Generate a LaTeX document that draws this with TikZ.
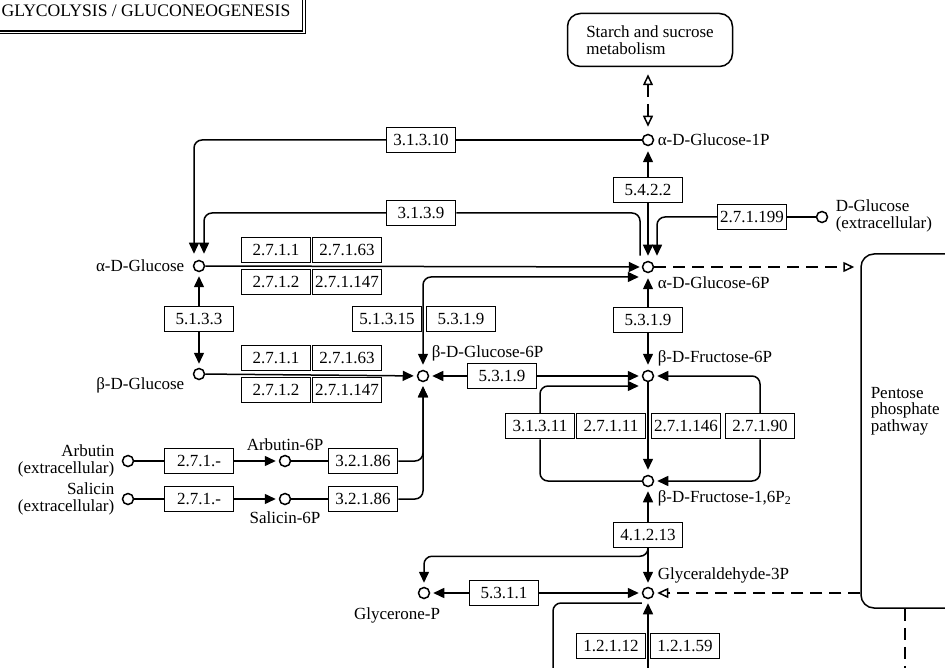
\documentclass[tikz,border=0pt]{standalone}
\usepackage{fontspec}
\setmainfont{Liberation Serif}
\usetikzlibrary{arrows.meta}

\begin{document}
\begin{tikzpicture}[x=1pt, y=-1pt, line width=1.5pt,
    >={Triangle[length=11pt,width=10pt]},
    cpd/.style={circle, draw, fill=white, minimum size=11pt, inner sep=0pt},
    enz/.style={draw, fill=white, minimum width=69pt, minimum height=25pt, inner sep=0pt, font=\fontsize{17}{17}\selectfont},
    lbl/.style={inner sep=0pt, font=\fontsize{17}{16.5}\selectfont},
    map/.style={draw, rounded corners=13pt, font=\fontsize{17}{16.5}\selectfont, align=left},
    ttlbox/.style={draw, minimum width=313pt, minimum height=40pt, font=\fontsize{17.6}{17.6}\selectfont},
    lnk/.style={dash pattern=on 12pt off 7pt},
    opn/.style={-{Triangle[open,length=11pt,width=10pt]}},
    opnboth/.style={{Triangle[open,length=11pt,width=10pt]}-{Triangle[open,length=11pt,width=10pt]}}]
    \useasboundingbox (0,0) rectangle (945,668);
    \clip (0,0) rectangle (945,668);

    % title and maps
    \node[ttlbox] (ttl) at (146,11) {GLYCOLYSIS / GLUCONEOGENESIS};
    \draw ([xshift=2pt,yshift=-2pt]ttl.south west) -| ([xshift=2pt,yshift=-2pt]ttl.north east);
    \node[map, minimum width=165pt, minimum height=53pt] (starch) at (650,40) {Starch and sucrose\\metabolism};
    \node[map, minimum width=140pt, minimum height=354pt] (pent) at (931,431) {};
    \node[lbl, anchor=west, align=left] (pentl) at (870,411) {Pentose\\phosphate\\pathway};

    % compounds
    \node[cpd] (g1p) at (648,140) {};
    \node[cpd] (g6p) at (648,267) {};
    \node[cpd] (dglcx) at (822,217) {};
    \node[cpd] (aglc) at (199,266) {};
    \node[cpd] (bglc) at (199,374) {};
    \node[cpd] (bg6p) at (423,376) {};
    \node[cpd] (f6p) at (648,376) {};
    \node[cpd] (fbp) at (648,481) {};
    \node[cpd] (arb) at (128,461) {};
    \node[cpd] (arb6p) at (285,461) {};
    \node[cpd] (sal) at (128,499) {};
    \node[cpd] (sal6p) at (285,499) {};
    \node[cpd] (gnp) at (424,593) {};
    \node[cpd] (gap) at (648,593) {};

    \node[lbl, anchor=west] (g1pl) at (657,140) {α-D-Glucose-1P};
    \node[lbl, anchor=west] (g6pl) at (657,283) {α-D-Glucose-6P};
    \node[lbl, anchor=west, align=left] (dglcxl) at (835,216) {D-Glucose\\(extracellular)};
    \node[lbl, anchor=east] (aglcl) at (185,266) {α-D-Glucose};
    \node[lbl, anchor=east] (bglcl) at (185,385) {β-D-Glucose};
    \node[lbl, anchor=west] (bg6pl) at (431,353) {β-D-Glucose-6P};
    \node[lbl, anchor=west] (f6pl) at (657,358) {β-D-Fructose-6P};
    \node[lbl, anchor=west] (fbpl) at (657,498) {β-D-Fructose-1,6P\textsubscript{2}};
    \node[lbl, anchor=east, align=right] (arbl) at (115,461) {Arbutin\\(extracellular)};
    \node[lbl, anchor=east, align=right] (sall) at (115,499) {Salicin\\(extracellular)};
    \node[lbl] (arb6pl) at (285,445) {Arbutin-6P};
    \node[lbl] (sal6pl) at (285,518) {Salicin-6P};
    \node[lbl] (gnpl) at (397,615) {Glycerone-P};
    \node[lbl, anchor=west] (gapl) at (657,575) {Glyceraldehyde-3P};

    % enzymes
    \node[enz] (e31310) at (421,140) {3.1.3.10};
    \node[enz] (e5422) at (648,190) {5.4.2.2};
    \node[enz] (e3139) at (421,213) {3.1.3.9};
    \node[enz] (e271199) at (752,217) {2.7.1.199};
    \node[enz] (e2711a) at (276,250) {2.7.1.1};
    \node[enz] (e27163a) at (347,250) {2.7.1.63};
    \node[enz] (e2712a) at (276,282) {2.7.1.2};
    \node[enz] (e271147a) at (347,282) {2.7.1.147};
    \node[enz] (e5133) at (199,319) {5.1.3.3};
    \node[enz] (e51315) at (387,319) {5.1.3.15};
    \node[enz] (e5319a) at (461,319) {5.3.1.9};
    \node[enz] (e5319b) at (648,320) {5.3.1.9};
    \node[enz] (e2711b) at (276,358) {2.7.1.1};
    \node[enz] (e27163b) at (347,358) {2.7.1.63};
    \node[enz] (e2712b) at (276,390) {2.7.1.2};
    \node[enz] (e271147b) at (347,390) {2.7.1.147};
    \node[enz] (e5319c) at (502,376) {5.3.1.9};
    \node[enz] (e31311) at (540,426) {3.1.3.11};
    \node[enz] (e27111) at (611,426) {2.7.1.11};
    \node[enz] (e271146) at (686,426) {2.7.1.146};
    \node[enz] (e27190) at (760,426) {2.7.1.90};
    \node[enz] (e271a) at (199,461) {2.7.1.-};
    \node[enz] (e271b) at (199,499) {2.7.1.-};
    \node[enz] (e32186a) at (363,461) {3.2.1.86};
    \node[enz] (e32186b) at (363,499) {3.2.1.86};
    \node[enz] (e41213) at (648,535) {4.1.2.13};
    \node[enz] (e5311) at (504,593) {5.3.1.1};
    \node[enz] (e12112) at (611,646) {1.2.1.12};
    \node[enz] (e12159) at (685,646) {1.2.1.59};

    \coordinate (gapin) at (648,680);
    \coordinate (pgin) at (553,680);
    \coordinate (pentout) at (905,680);

    % reactions
    \draw (g1p) -- (e31310);
    \draw[->, rounded corners=8pt] (e31310.west) -| ([xshift=-5pt,yshift=6pt]aglc.north);
    \draw[rounded corners=8pt] ([xshift=-8pt,yshift=5pt]g6p.north) |- (e3139.east);
    \draw[->, rounded corners=8pt] (e3139.west) -| ([xshift=5pt,yshift=6pt]aglc.north);
    \draw[->, shorten >=5pt] (e5422) -- (g1p);
    \draw[->, shorten >=5pt] (e5422) -- (g6p);
    \draw (dglcx) -- (e271199);
    \draw[->, rounded corners=8pt] (e271199.west) -| ([xshift=9pt,yshift=5pt]g6p.north);
    \draw[->, shorten >=2pt] (aglc) -- (g6p);
    \draw[->, shorten >=4pt] (e5133) -- (aglc);
    \draw[->, shorten >=4pt] (e5133) -- (bglc);
    \draw[->, shorten >=3pt] (bglc) -- (bg6p);
    \draw[<->, rounded corners=8pt, shorten <=5pt, shorten >=3pt] (bg6p.north) |- ([yshift=-10pt]g6p.west);
    \draw[->, shorten >=3pt] (e5319c) -- (bg6p);
    \draw[->, shorten >=3pt] (e5319c) -- (f6p);
    \draw[->, shorten >=5pt] (e5319b) -- (g6p);
    \draw[->, shorten >=5pt] (e5319b) -- (f6p);
    \draw[->, shorten >=5pt] (f6p) -- (fbp);
    \draw[rounded corners=8pt] (fbp.west) -| (e31311.south);
    \draw[->, rounded corners=8pt, shorten >=3pt] (e31311.north) |- ([yshift=-10pt]f6p.west);
    \draw[<-, rounded corners=8pt, shorten <=3pt] (f6p.east) -| (e27190.north);
    \draw[->, rounded corners=8pt, shorten >=3pt] (e27190.south) |- (fbp.east);
    \draw (arb) -- (e271a);
    \draw[->, shorten >=3pt] (e271a) -- (arb6p);
    \draw (sal) -- (e271b);
    \draw[->, shorten >=3pt] (e271b) -- (sal6p);
    \draw (arb6p) -- (e32186a);
    \draw (sal6p) -- (e32186b);
    \draw[->, rounded corners=8pt, shorten >=4pt] (e32186a.east) -| (bg6p.south);
    \draw[->, rounded corners=8pt, shorten >=4pt] (e32186b.east) -| (bg6p.south);
    \draw[->, shorten >=4pt] (e41213) -- (fbp);
    \draw[->, shorten >=4pt] (e41213) -- (gap);
    \draw[->, rounded corners=8pt, shorten >=4pt] (e41213.south) -- ++(0,8) -| (gnp.north);
    \draw[->, shorten >=3pt] (e5311) -- (gnp);
    \draw[->, shorten >=3pt] (e5311) -- (gap);
    \draw[->, shorten >=4pt] (gapin) -- (gap);
    \draw[rounded corners=8pt] ([yshift=-10pt]gap.west) -| (pgin);

    % links to other maps
    \draw[lnk, opnboth, shorten <=7pt, shorten >=7pt] (starch.south -| g1p) -- (g1p);
    \draw[lnk, opn, shorten >=6pt] (g6p) -- (g6p -| pent.west);
    \draw[lnk, opn, shorten >=3pt] (pent.west |- gap) -- (gap);
    \draw[lnk] (pentout |- pent.south) -- (pentout);
\end{tikzpicture}
\end{document}
